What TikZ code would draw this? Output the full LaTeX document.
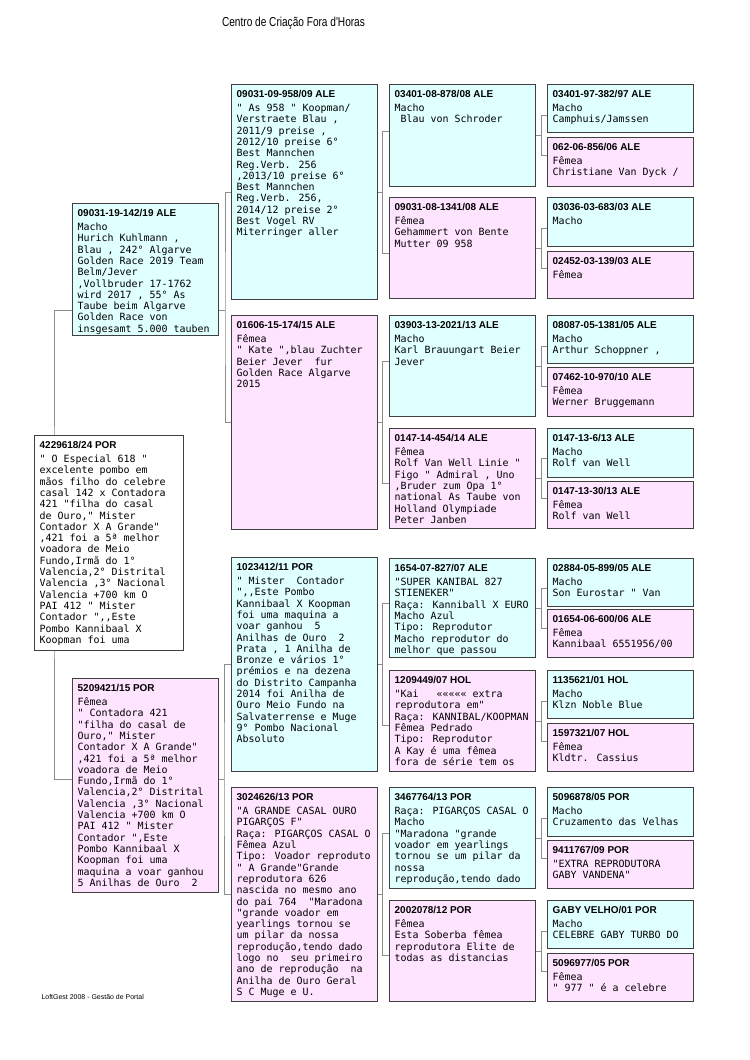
\documentclass[tikz,border=0pt]{standalone}
\usepackage{fontspec}
\usetikzlibrary{calc}
\newfontfamily\monof{DejaVu Sans Mono}
\newfontfamily\hdrf{Liberation Sans}
\newfontfamily\titlef{Liberation Sans}[FakeStretch=0.78]
\definecolor{mcyan}{RGB}{224,255,255}
\definecolor{fpink}{RGB}{255,228,255}
\definecolor{bord}{RGB}{64,64,64}
\definecolor{lnk}{RGB}{140,140,140}
\tikzset{
  pb/.style={draw=bord, line width=0.8bp, inner sep=0pt, anchor=north west, minimum width=146bp},
  male/.style={pb, fill=mcyan},
  fem/.style={pb, fill=fpink},
  rootbox/.style={pb, fill=white, minimum width=149bp},
  txt/.style={anchor=north west, inner sep=0pt, align=left, font=\monof\fontsize{10}{11.35}\selectfont},
  conn/.style={draw=lnk, line width=0.8bp},
}
\newcommand\hd[1]{{\hdrf\bfseries\fontsize{10}{10}\selectfont #1}\\[2.8bp]}
\newcommand\pbox[5]{%
  \node[#2, minimum height=#4] (#1) at #3 {};
  \node[txt] (#1t) at ([xshift=5.5bp,yshift=-6bp]#1.north west) {#5};
}
\newcommand\link[5]{%
  \draw[conn] (#1.east) -- ++(#4,0) coordinate (j#1);
  \coordinate (s#2) at ($(j#1)+(0,-#5)$);
  \coordinate (s#3) at ($(j#1)+(0,#5)$);
  \draw[conn] (#2.west |- s#2) -| (j#1) |- (#3.west |- s#3);
}
\begin{document}
\begin{tikzpicture}[x=1bp,y=-1bp]
\fill[white] (0,0) rectangle (750,1060);
\useasboundingbox (0,0) rectangle (750,1060);

\node[font=\titlef\fontsize{13}{13}\selectfont] (title) at (293.5,22.7) {Centro de Criação Fora d'Horas};
\node[anchor=west, font=\hdrf\fontsize{7}{7}\selectfont] (foot) at (38,997) {LoftGest 2008 - Gestão de Portal};

% ---------- generation 4 ----------
\pbox{o1}{male}{(547,84)}{48bp}{\hd{03401-97-382/97 ALE}Macho\\Camphuis/Jamssen}
\pbox{o2}{fem}{(547,137)}{49bp}{\hd{062-06-856/06 ALE}Fêmea\\Christiane Van Dyck /}
\pbox{o3}{male}{(547,197)}{49bp}{\hd{03036-03-683/03 ALE}Macho}
\pbox{o4}{fem}{(547,251)}{47bp}{\hd{02452-03-139/03 ALE}Fêmea}
\pbox{o5}{male}{(547,315)}{48bp}{\hd{08087-05-1381/05 ALE}Macho\\Arthur Schoppner ,}
\pbox{o6}{fem}{(547,367)}{49bp}{\hd{07462-10-970/10 ALE}Fêmea\\Werner Bruggemann}
\pbox{o7}{male}{(547,428)}{49bp}{\hd{0147-13-6/13 ALE}Macho\\Rolf van Well}
\pbox{o8}{fem}{(547,481)}{47bp}{\hd{0147-13-30/13 ALE}Fêmea\\Rolf van Well}
\pbox{o9}{male}{(547,558)}{48bp}{\hd{02884-05-899/05 ALE}Macho\\Son Eurostar " Van}
\pbox{o10}{fem}{(547,609)}{48bp}{\hd{01654-06-600/06 ALE}Fêmea\\Kannibaal 6551956/00}
\pbox{o11}{male}{(547,670)}{48bp}{\hd{1135621/01 HOL}Macho\\Klzn Noble Blue}
\pbox{o12}{fem}{(547,723)}{48bp}{\hd{1597321/07 HOL}Fêmea\\Kldtr. Cassius}
\pbox{o13}{male}{(547,787)}{49bp}{\hd{5096878/05 POR}Macho\\Cruzamento das Velhas}
\pbox{o14}{fem}{(547,840)}{48bp}{\hd{9411767/09 POR}"EXTRA REPRODUTORA\\GABY VANDENA"}
\pbox{o15}{male}{(547,900)}{48bp}{\hd{GABY VELHO/01 POR}Macho\\CELEBRE GABY TURBO DO}
\pbox{o16}{fem}{(547,953)}{48bp}{\hd{5096977/05 POR}Fêmea\\" 977 " é a celebre}

% ---------- generation 3 ----------
\pbox{G}{male}{(389,84)}{102bp}{\hd{03401-08-878/08 ALE}Macho\\~Blau von Schroder}
\pbox{H}{fem}{(389,197)}{101bp}{\hd{09031-08-1341/08 ALE}Fêmea\\Gehammert von Bente\\Mutter 09 958}
\pbox{I}{male}{(389,315)}{101bp}{\hd{03903-13-2021/13 ALE}Macho\\Karl Brauungart Beier\\Jever}
\pbox{J}{fem}{(389,428)}{100bp}{\hd{0147-14-454/14 ALE}Fêmea\\Rolf Van Well Linie "\\Figo " Admiral , Uno\\,Bruder zum Opa 1°\\national As Taube von\\Holland Olympiade\\Peter Janben}
\pbox{K}{male}{(389,558)}{99bp}{\hd{1654-07-827/07 ALE}"SUPER KANIBAL 827\\STIENEKER"\\Raça: Kanniball X EURO\\Macho Azul\\Tipo: Reprodutor\\Macho reprodutor do\\melhor que passou}
\pbox{L}{fem}{(389,670)}{101bp}{\hd{1209449/07 HOL}"Kai~~ ««««« extra\\reprodutora em"\\Raça: KANNIBAL/KOOPMAN\\Fêmea Pedrado\\Tipo: Reprodutor\\A Kay é uma fêmea\\fora de série tem os}
\pbox{M}{male}{(389,787)}{101bp}{\hd{3467764/13 POR}Raça: PIGARÇOS CASAL O\\Macho\\"Maradona "grande\\voador em yearlings\\tornou se um pilar da\\nossa\\reprodução,tendo dado}
\pbox{N}{fem}{(389,900)}{101bp}{\hd{2002078/12 POR}Fêmea\\Esta Soberba fêmea\\reprodutora Elite de\\todas as distancias}

% ---------- generation 2 ----------
\pbox{C}{male}{(231,84)}{215bp}{\hd{09031-09-958/09 ALE}" As 958 " Koopman/\\Verstraete Blau ,\\2011/9 preise ,\\2012/10 preise 6°\\Best Mannchen\\Reg.Verb. 256\\,2013/10 preise 6°\\Best Mannchen\\Reg.Verb. 256,\\2014/12 preise 2°\\Best Vogel RV\\Miterringer aller}
\pbox{D}{fem}{(231,315)}{214bp}{\hd{01606-15-174/15 ALE}Fêmea\\" Kate ",blau Zuchter\\Beier Jever~~fur\\Golden Race Algarve\\2015}
\pbox{E}{male}{(231,557)}{214bp}{\hd{1023412/11 POR}" Mister~~Contador\\",,Este Pombo\\Kannibaal X Koopman\\foi uma maquina a\\voar ganhou~~5\\Anilhas de Ouro~~2\\Prata , 1 Anilha de\\Bronze e vários 1°\\prémios e na dezena\\do Distrito Campanha\\2014 foi Anilha de\\Ouro Meio Fundo na\\Salvaterrense e Muge\\9° Pombo Nacional\\Absoluto}
\pbox{F}{fem}{(231,787)}{214bp}{\hd{3024626/13 POR}"A GRANDE CASAL OURO\\PIGARÇOS F"\\Raça: PIGARÇOS CASAL O\\Fêmea Azul\\Tipo: Voador reproduto\\" A Grande"Grande\\reprodutora 626\\nascida no mesmo ano\\do pai 764~~"Maradona\\"grande voador em\\yearlings tornou se\\um pilar da nossa\\reprodução,tendo dado\\logo no~~seu primeiro\\ano de reprodução~~na\\Anilha de Ouro Geral\\S C Muge e U.}

% ---------- generation 1 ----------
\pbox{A}{male}{(72,203)}{132bp}{\hd{09031-19-142/19 ALE}Macho\\Hurich Kuhlmann ,\\Blau , 242° Algarve\\Golden Race 2019 Team\\Belm/Jever\\,Vollbruder 17-1762\\wird 2017 , 55° As\\Taube beim Algarve\\Golden Race von\\insgesamt 5.000 tauben}
\pbox{B}{fem}{(72,678)}{214bp}{\hd{5209421/15 POR}Fêmea\\" Contadora 421\\"filha do casal de\\Ouro," Mister\\Contador X A Grande"\\,421 foi a 5ª melhor\\voadora de Meio\\Fundo,Irmã do 1°\\Valencia,2° Distrital\\Valencia ,3° Nacional\\Valencia +700 km O\\PAI 412 " Mister\\Contador ",Este\\Pombo Kannibaal X\\Koopman foi uma\\maquina a voar ganhou\\5 Anilhas de Ouro~~2}

% ---------- connectors ----------
\coordinate (cA) at (225,310);
\coordinate (cB) at (224,779);
\coordinate (cR) at (54,540);
\draw[conn] (A.west |- cA) -| (cR) |- (B.west |- cB);
\draw[conn] (A.east |- cA) -- (cA);
\draw[conn] (C.west) -| (cA) |- (D.west);
\draw[conn] (B.east |- cB) -- (cB);
\draw[conn] (E.west) -| (cB) |- (F.west);
\link{C}{G}{H}{5}{61}
\link{D}{I}{J}{5}{61}
\link{E}{K}{L}{5}{61}
\link{F}{M}{N}{5}{61}
\link{G}{o1}{o2}{6}{20}
\link{H}{o3}{o4}{6}{20}
\link{I}{o5}{o6}{6}{20}
\link{J}{o7}{o8}{6}{20}
\link{K}{o9}{o10}{6}{20}
\link{L}{o11}{o12}{6}{20}
\link{M}{o13}{o14}{6}{20}
\link{N}{o15}{o16}{6}{20}

% ---------- root ----------
\pbox{R}{rootbox}{(34,435)}{215bp}{\hd{4229618/24 POR}" O Especial 618 "\\excelente pombo em\\mãos filho do celebre\\casal 142 x Contadora\\421 "filha do casal\\de Ouro," Mister\\Contador X A Grande"\\,421 foi a 5ª melhor\\voadora de Meio\\Fundo,Irmã do 1°\\Valencia,2° Distrital\\Valencia ,3° Nacional\\Valencia +700 km O\\PAI 412 " Mister\\Contador ",,Este\\Pombo Kannibaal X\\Koopman foi uma}
\end{tikzpicture}
\end{document}
